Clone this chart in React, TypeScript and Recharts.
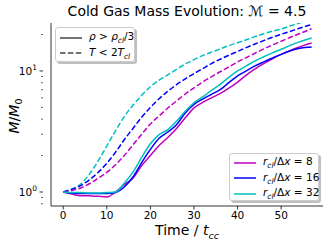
import React from "react";
import { LineChart, Line, XAxis, YAxis } from "recharts";

const times = [0, 2, 4, 6, 8, 10, 12, 14, 16, 18, 20, 22, 24, 26, 28, 30, 32, 34, 36, 38, 40, 42, 44, 46, 48, 50, 52, 54, 56, 57];

// solid: rho > rho_cl / 3
const magentaSolid = [1.0, 0.96, 0.93, 0.93, 0.92, 0.91, 1.0, 1.15, 1.3, 1.65, 2.0, 2.42, 2.82, 3.35, 4.1, 4.95, 5.5, 6.0, 6.5, 7.2, 8.1, 9.25, 10.4, 11.5, 12.6, 13.7, 14.7, 15.7, 16.6, 17.0];
const blueSolid = [1.0, 0.98, 0.97, 0.97, 0.97, 0.97, 0.99, 1.1, 1.33, 1.75, 2.25, 2.78, 3.13, 3.6, 4.5, 5.3, 5.85, 6.4, 7.0, 8.0, 9.1, 10.0, 11.0, 11.9, 12.8, 13.7, 14.6, 15.3, 15.7, 15.8];
const cyanSolid = [1.0, 0.99, 0.99, 0.98, 0.98, 0.99, 1.0, 1.18, 1.46, 1.93, 2.5, 2.98, 3.28, 3.85, 4.65, 5.45, 6.1, 6.9, 7.75, 8.85, 10.0, 11.0, 12.1, 13.1, 14.1, 15.1, 16.2, 17.3, 18.3, 18.7];

// dashed: T < 2 T_cl
const magentaDashed = [1.0, 1.03, 1.08, 1.17, 1.3, 1.45, 1.68, 2.0, 2.45, 3.0, 3.65, 4.25, 4.94, 5.65, 6.45, 7.25, 8.1, 8.95, 9.85, 10.8, 11.85, 12.9, 14.0, 15.2, 16.4, 17.6, 18.9, 20.2, 21.6, 22.4];
const blueDashed = [1.0, 1.05, 1.13, 1.26, 1.45, 1.73, 2.13, 2.7, 3.35, 4.15, 5.0, 5.9, 6.8, 7.7, 8.6, 9.5, 10.45, 11.5, 12.5, 13.5, 14.5, 15.6, 16.7, 17.8, 19.0, 20.1, 21.2, 22.4, 23.6, 24.2];
const cyanDashed = [1.0, 1.06, 1.16, 1.4, 1.8, 2.4, 3.2, 4.2, 5.2, 6.3, 7.4, 8.4, 9.3, 10.3, 11.4, 12.4, 13.4, 14.3, 15.2, 16.2, 17.1, 18.1, 19.2, 20.3, 21.3, 22.2, 23.5, 24.8, 26.0, 26.5];

const xTicks = [0, 10, 20, 30, 40, 50];
const yTicks = [0.8, 0.9, 1, 2, 3, 4, 5, 6, 7, 8, 9, 10, 20];
const yMajor = [1, 10];

const data = times.map((t, i) => ({
  t,
  mS: magentaSolid[i],
  bS: blueSolid[i],
  cS: cyanSolid[i],
  mD: magentaDashed[i],
  bD: blueDashed[i],
  cD: cyanDashed[i],
}));

const MAG = "#bf00bf";
const BLU = "#0000ff";
const CYA = "#00bfbf";
const FONT = "DejaVu Sans, sans-serif";

const YTick = (props: any) => {
  const { x, y, payload } = props;
  const v = payload.value;
  const major = yMajor.includes(v);
  return (
    <g>
      <line x1={x} x2={x - (major ? 3.5 : 2)} y1={y} y2={y} stroke="#000" strokeWidth={major ? 0.8 : 0.6} />
      {major && (
        <text x={x - 6} y={y + 4} textAnchor="end" fontSize={10.5} fill="#000" fontFamily={FONT}>
          10
          <tspan fontSize={7.5} dy={-5}>{v === 1 ? "0" : "1"}</tspan>
        </text>
      )}
    </g>
  );
};

const sample = (color: string, dashed: boolean) => (
  <svg width={22} height={6} style={{ marginRight: 7, flex: "none" }}>
    <line x1={0} x2={22} y1={3} y2={3} stroke={color} strokeWidth={1.5} strokeDasharray={dashed ? "5.5 2.4" : undefined} />
  </svg>
);

const boxStyle: React.CSSProperties = {
  position: "absolute",
  background: "rgba(255,255,255,0.85)",
  border: "1px solid #cccccc",
  borderRadius: 3,
  boxShadow: "2px 2px 0 rgba(0,0,0,0.25)",
  fontFamily: FONT,
  fontSize: 10.5,
  color: "#000",
  padding: "2px 4px",
  boxSizing: "border-box",
};

const row: React.CSSProperties = { display: "flex", alignItems: "center", height: 15.5, whiteSpace: "nowrap" };

const res = (n: string) => (
  <span>
    <i>r</i>
    <sub style={{ fontSize: 7.5 }}><i>cl</i></sub>/Δ<i>x</i> = {n}
  </span>
);

export default function App() {
  return (
    <div style={{ position: "absolute", left: 0, top: 0, width: 332, height: 249, background: "#fff" }}>
      <div
        style={{
          position: "absolute",
          top: 3,
          left: 37,
          width: 300,
          textAlign: "center",
          fontFamily: FONT,
          fontSize: 14,
          color: "#000",
          whiteSpace: "nowrap",
        }}
      >
        Cold Gas Mass Evolution: <i>ℳ</i> = 4.5
      </div>
      <LineChart width={332} height={249} data={data} margin={{ top: 23, right: 9, bottom: 13, left: 0 }}>
        <XAxis
          dataKey="t"
          type="number"
          domain={[-2.8, 59.6]}
          ticks={xTicks}
          allowDataOverflow
          height={30}
          tickSize={3.5}
          tick={{ fill: "#000", fontSize: 10.5, fontFamily: FONT }}
          axisLine={{ stroke: "#000", strokeWidth: 0.8 }}
          tickLine={{ stroke: "#000", strokeWidth: 0.8 }}
        />
        <XAxis xAxisId="top" orientation="top" dataKey="t" type="number" domain={[-2.8, 59.6]} height={0} tick={false} tickLine={false} axisLine={{ stroke: "#000", strokeWidth: 0.8 }} />
        <YAxis
          type="number"
          scale="log"
          domain={[0.766, 24.9]}
          allowDataOverflow
          ticks={yTicks}
          width={51}
          tick={<YTick />}
          tickLine={false}
          axisLine={{ stroke: "#000", strokeWidth: 0.8 }}
          interval={0}
        />
        <YAxis yAxisId="right" orientation="right" scale="log" domain={[0.766, 24.9]} width={0} tick={false} tickLine={false} axisLine={{ stroke: "#000", strokeWidth: 0.8 }} />
        <Line dataKey="cD" stroke={CYA} strokeWidth={1.5} strokeDasharray="5.5 2.4" dot={false} type="monotone" isAnimationActive={false} />
        <Line dataKey="bD" stroke={BLU} strokeWidth={1.5} strokeDasharray="5.5 2.4" dot={false} type="monotone" isAnimationActive={false} />
        <Line dataKey="mD" stroke={MAG} strokeWidth={1.5} strokeDasharray="5.5 2.4" dot={false} type="monotone" isAnimationActive={false} />
        <Line dataKey="mS" stroke={MAG} strokeWidth={1.5} dot={false} type="monotone" isAnimationActive={false} />
        <Line dataKey="bS" stroke={BLU} strokeWidth={1.5} dot={false} type="monotone" isAnimationActive={false} />
        <Line dataKey="cS" stroke={CYA} strokeWidth={1.5} dot={false} type="monotone" isAnimationActive={false} />
      </LineChart>
      <div
        style={{
          position: "absolute",
          left: 15,
          top: 116,
          transform: "translate(-50%, -50%) rotate(-90deg)",
          fontFamily: FONT,
          fontSize: 14,
          whiteSpace: "nowrap",
        }}
      >
        <i>M</i>/<i>M</i>
        <sub style={{ fontSize: 9.5 }}>0</sub>
      </div>
      <div
        style={{
          position: "absolute",
          left: 87,
          width: 200,
          top: 222,
          textAlign: "center",
          fontFamily: FONT,
          fontSize: 14,
          lineHeight: "16px",
          whiteSpace: "nowrap",
        }}
      >
        Time / <i>t</i>
        <sub style={{ fontSize: 9.5, lineHeight: 0 }}><i>cc</i></sub>
      </div>
      <div style={{ ...boxStyle, left: 55, top: 27, width: 80, height: 35 }}>
        <div style={row}>
          {sample("#444", false)}
          <span>
            <i>ρ</i> &gt; <i>ρ</i>
            <sub style={{ fontSize: 7.5 }}><i>cl</i></sub>/3
          </span>
        </div>
        <div style={row}>
          {sample("#444", true)}
          <span>
            <i>T</i> &lt; 2<i>T</i>
            <sub style={{ fontSize: 7.5 }}><i>cl</i></sub>
          </span>
        </div>
      </div>
      <div style={{ ...boxStyle, left: 229, top: 153, width: 90, height: 48, paddingTop: 1 }}>
        <div style={row}>
          {sample(MAG, false)}
          {res("8")}
        </div>
        <div style={row}>
          {sample(BLU, false)}
          {res("16")}
        </div>
        <div style={row}>
          {sample(CYA, false)}
          {res("32")}
        </div>
      </div>
    </div>
  );
}
